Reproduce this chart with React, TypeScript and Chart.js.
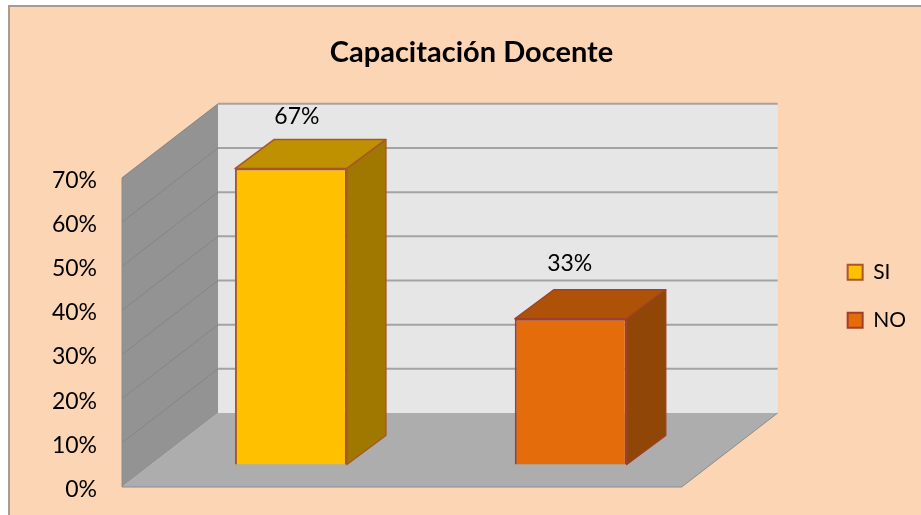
import { useEffect, useRef } from "react";
import { Chart, registerables } from "chart.js";

Chart.register(...registerables);

const chartTitle = "Capacitación Docente";
const categories = ["Capacitación Docente"];
const seriesNames = ["SI", "NO"];
const siValues = [67];
const noValues = [33];
const tickMax = 70;
const FONT = "Lato, Carlito, Calibri, sans-serif";

const faces = [
  { top: "#BF9000", side: "#A07800" },
  { top: "#AE5208", side: "#8F4606" },
];

// 3D projection depths, in pixels
const WALL_DX = 96, WALL_DY = 74, BAR_DX = 39, BAR_DY = 29, BAR_SHIFT_X = 29;
// tick labels sit slightly below the front edge of the side wall
const LABEL_DROP = 2.5;

function poly(ctx: CanvasRenderingContext2D, pts: number[][], fill: string, stroke?: string, lw = 1) {
  ctx.beginPath();
  pts.forEach((p, i) => (i ? ctx.lineTo(p[0], p[1]) : ctx.moveTo(p[0], p[1])));
  ctx.closePath();
  ctx.fillStyle = fill;
  ctx.fill();
  if (stroke) {
    ctx.strokeStyle = stroke;
    ctx.lineWidth = lw;
    ctx.lineJoin = "round";
    ctx.stroke();
  }
}

const backgroundPlugin = {
  id: "frame",
  beforeDraw(chart: any) {
    const { ctx, width, height } = chart;
    ctx.save();
    ctx.fillStyle = "#FFFFFF";
    ctx.fillRect(0, 0, width, height);
    ctx.fillStyle = "#FCD5B5";
    ctx.fillRect(8, 5, width - 8, height - 5);
    ctx.fillStyle = "#A89C90";
    ctx.fillRect(8, 5, width - 8, 2);
    ctx.fillRect(8, 5, 2, height - 5);
    ctx.restore();
  },
};

const wallsPlugin = {
  id: "walls",
  beforeDatasetsDraw(chart: any) {
    const { ctx, chartArea, scales } = chart;
    const y = scales.y;
    const L = chartArea.left - BAR_SHIFT_X;
    const W = chartArea.right - chartArea.left;
    const y0 = y.getPixelForValue(0) - LABEL_DROP;
    const yT = y.getPixelForValue(tickMax) - LABEL_DROP;
    const bx = L + WALL_DX;
    ctx.save();
    // back wall
    poly(ctx, [[bx, yT - WALL_DY], [bx + W, yT - WALL_DY], [bx + W, y0 - WALL_DY], [bx, y0 - WALL_DY]], "#E6E6E6");
    // side wall
    poly(ctx, [[L, yT], [bx, yT - WALL_DY], [bx, y0 - WALL_DY], [L, y0]], "#939393");
    // floor
    poly(ctx, [[L, y0], [bx, y0 - WALL_DY], [bx + W, y0 - WALL_DY], [L + W, y0]], "#ADADAD");
    // grid lines
    y.ticks.forEach((t: any) => {
      const py = y.getPixelForValue(t.value) - LABEL_DROP;
      if (t.value > 0) {
        ctx.beginPath();
        ctx.moveTo(L, py);
        ctx.lineTo(bx, py - WALL_DY);
        ctx.strokeStyle = "#858585";
        ctx.lineWidth = 1;
        ctx.stroke();
        ctx.beginPath();
        ctx.moveTo(bx, py - WALL_DY);
        ctx.lineTo(bx + W, py - WALL_DY);
        ctx.strokeStyle = "#A3A3A3";
        ctx.lineWidth = 2;
        ctx.stroke();
      }
    });
    // floor front edge
    ctx.beginPath();
    ctx.moveTo(L, y0);
    ctx.lineTo(L + W, y0);
    ctx.lineTo(bx + W, y0 - WALL_DY);
    ctx.strokeStyle = "#8C8C8C";
    ctx.lineWidth = 1;
    ctx.stroke();
    ctx.beginPath();
    ctx.moveTo(L, yT);
    ctx.lineTo(L, y0);
    ctx.strokeStyle = "#8C8C8C";
    ctx.stroke();
    ctx.restore();
  },
  afterDatasetsDraw(chart: any) {
    const { ctx } = chart;
    ctx.save();
    chart.data.datasets.forEach((ds: any, i: number) => {
      const bar = chart.getDatasetMeta(i).data[0];
      const r = bar.x + bar.width / 2;
      const l = bar.x - bar.width / 2;
      const stroke = ds.borderColor;
      poly(ctx, [[l, bar.y], [l + BAR_DX, bar.y - BAR_DY], [r + BAR_DX, bar.y - BAR_DY], [r, bar.y]], faces[i].top, stroke, 1.5);
      poly(ctx, [[r, bar.y], [r + BAR_DX, bar.y - BAR_DY], [r + BAR_DX, bar.base - BAR_DY], [r, bar.base]], faces[i].side, stroke, 1.5);
      ctx.fillStyle = "#000000";
      ctx.font = `23px ${FONT}`;
      ctx.textAlign = "center";
      ctx.textBaseline = "middle";
      ctx.fillText(`${ds.data[0]}%`, bar.x + (i === 0 ? 6 : -1), bar.y - BAR_DY - (i === 0 ? 23 : 26));
    });
    ctx.restore();
  },
};

export default function App() {
  const ref = useRef<HTMLCanvasElement | null>(null);
  useEffect(() => {
    if (!ref.current) return;
    const chart = new Chart(ref.current, {
      type: "bar",
      data: {
        labels: categories,
        datasets: [
          { label: seriesNames[0], data: siValues, backgroundColor: "#FFC000", borderColor: "#A8562A", borderWidth: 2, yAxisID: "y1" },
          { label: seriesNames[1], data: noValues, backgroundColor: "#E46C0A", borderColor: "#A0402A", borderWidth: 2, yAxisID: "y1" },
        ],
      },
      plugins: [backgroundPlugin, wallsPlugin],
      options: {
        responsive: false,
        animation: false,
        categoryPercentage: 1,
        barPercentage: 0.4,
        layout: { padding: { left: 27, right: 5, top: 0, bottom: 25.5 } },
        plugins: {
          tooltip: { enabled: false },
          title: {
            display: true,
            text: chartTitle,
            color: "#000000",
            font: { family: FONT, size: 29, weight: "bold" },
            padding: { top: 35, bottom: 33 },
          },
          legend: {
            position: "right",
            fullSize: false,
            labels: {
              color: "#000000",
              font: { family: FONT, size: 21 },
              boxWidth: 15,
              boxHeight: 15,
              padding: 27,
            },
          },
        },
        scales: {
          x: { display: false, grid: { display: false } },
          y: {
            position: "left",
            min: 0,
            max: 87.56,
            grid: { display: false, drawTicks: false },
            border: { display: false },
            afterBuildTicks: (s: any) => {
              s.ticks = s.ticks.filter((t: any) => t.value <= tickMax);
            },
            afterFit: (s: any) => {
              s.width = 124;
              s.paddingTop = 0;
              s.paddingBottom = 0;
            },
            ticks: {
              stepSize: 10,
              padding: 54,
              color: "#000000",
              font: { family: FONT, size: 23 },
              callback: (v: any) => `${v}%`,
            },
          },
          y1: {
            position: "right",
            min: -5.66,
            max: 81.9,
            grid: { display: false, drawTicks: false },
            border: { display: false },
            ticks: { display: false },
            afterFit: (s: any) => {
              s.width = 110;
            },
          },
        },
      } as any,
    });
    return () => chart.destroy();
  }, []);
  return (
    <canvas
      ref={ref}
      width={921}
      height={515}
      style={{ position: "absolute", left: 0, top: 0, display: "block" }}
    />
  );
}
